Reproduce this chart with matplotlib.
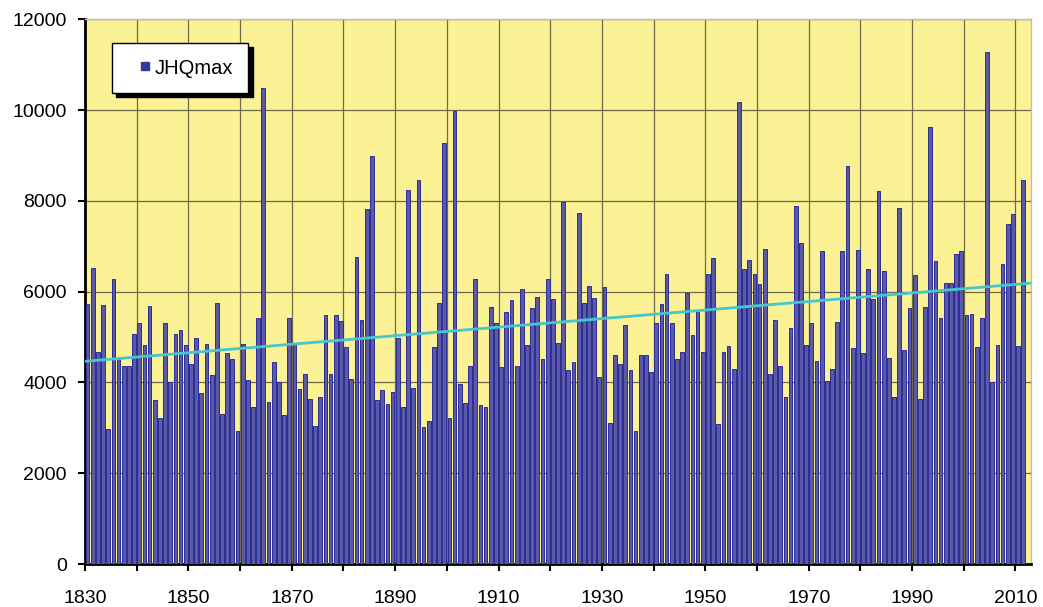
import numpy as np
import matplotlib.pyplot as plt
from matplotlib.lines import Line2D

plt.rcParams['font.family'] = ['Liberation Sans', 'DejaVu Sans']

# Jahreshöchstabfluss, 1830-2011
years = np.arange(1830, 2012)
jhq = [5720, 6530, 4670, 5700, 2980, 6270, 4520, 4360, 4360, 5060,
       5300, 4820, 5680, 3620, 3220, 5320, 4010, 5060, 5150, 4820,
       4410, 4980, 3760, 4850, 4160, 5750, 3300, 4640, 4520, 2940,
       4840, 4060, 3460, 5410, 10480, 3570, 4450, 4000, 3280, 5410,
       4850, 3850, 4190, 3640, 3030, 3680, 5490, 4180, 5480, 5360,
       4780, 4080, 6770, 5370, 7830, 8990, 3610, 3840, 3520, 3780,
       4970, 3460, 8250, 3880, 8460, 3020, 3150, 4770, 5750, 9270,
       3220, 9980, 3960, 3550, 4360, 6270, 3500, 3470, 5660, 5300,
       4340, 5550, 5810, 4360, 6060, 4820, 5650, 5880, 4520, 6270,
       5830, 4870, 7980, 4280, 4440, 7740, 5760, 6120, 5860, 4120,
       6110, 3110, 4610, 4400, 5270, 4270, 2940, 4610, 4610, 4230,
       5310, 5720, 6400, 5310, 4510, 4660, 5960, 5050, 5570, 4660,
       6400, 6740, 3090, 4660, 4810, 4300, 10180, 6490, 6690, 6400,
       6160, 6950, 4190, 5380, 4370, 3690, 5190, 7880, 7080, 4830,
       5300, 4470, 6900, 4030, 4290, 5330, 6900, 8770, 4750, 6910,
       4640, 6490, 5840, 8210, 6450, 4540, 3680, 7850, 4710, 5650,
       6360, 3640, 5660, 9630, 6670, 5430, 6200, 6180, 6820, 6890,
       5480, 5500, 4780, 5420, 11290, 4010, 4830, 6600, 7480, 7710,
       4800, 8470]

xticks = list(range(1830, 2011, 10))
xlabels = [str(y) if (y - 1830) % 20 == 0 else '' for y in xticks]
yticks = list(range(0, 12001, 2000))

fig = plt.figure(figsize=(10.43, 6.07), dpi=100)
ax = fig.add_axes([0.0815, 0.0708, 0.907, 0.8974])
ax.set_facecolor('#FBF296')

# Balken
ax.bar(years + 0.5, jhq, width=0.72, color='#5a5aa6', edgecolor='#2C2C98',
       linewidth=0.7, zorder=3)

# lineare Trendlinie
coef = np.polyfit(years + 0.5, jhq, 1)
xt = np.array([1830, 2013])
ax.plot(xt, np.polyval(coef, xt), color='#48C6CE', lw=2, zorder=4)

ax.set_xlim(1830, 2013)
ax.set_ylim(0, 12000)
ax.set_xticks(xticks)
ax.set_xticklabels(xlabels)
ax.set_yticks(yticks)
ax.grid(True, color='#6f6a48', lw=0.9, zorder=1)
ax.set_axisbelow(True)

ax.tick_params(axis='y', direction='out', length=5, width=1.5, pad=8, labelsize=14)
ax.tick_params(axis='x', direction='out', length=5, width=1.5, pad=14, labelsize=14)

for s in ['left', 'bottom']:
    ax.spines[s].set_linewidth(2)
    ax.spines[s].set_color('black')
for s in ['top', 'right']:
    ax.spines[s].set_linewidth(1)
    ax.spines[s].set_color('#bbbbbb')

# Legende
handle = Line2D([], [], ls='', marker='s', markersize=5.2, color='#3535A0', label='JHQmax')
leg = ax.legend(handles=[handle], loc='upper left', bbox_to_anchor=(0.0285, 0.9565),
                borderaxespad=0, fontsize=14.5, handlelength=1.79, numpoints=1,
                handletextpad=-0.45, borderpad=0.77, fancybox=False, framealpha=1,
                edgecolor='black',
                shadow={'color': 'black', 'alpha': 1, 'ox': 3, 'oy': -3})
leg.get_frame().set_linewidth(1)
leg.get_frame().set_facecolor('white')
leg.set_zorder(10)

plt.savefig('out.png', dpi=100)
